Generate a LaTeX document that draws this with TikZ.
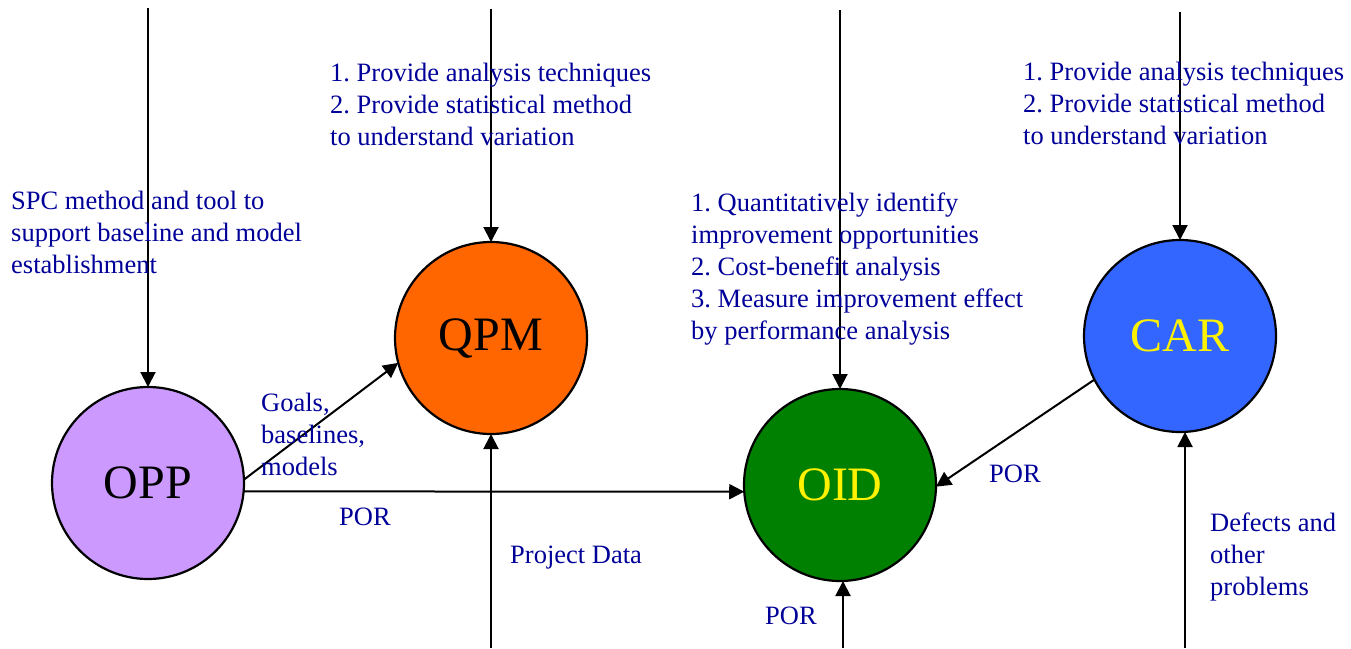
\documentclass[tikz,border=0pt]{standalone}
\usepackage{fontspec}
\setmainfont{Liberation Serif}
\usetikzlibrary{arrows.meta}
\definecolor{labelblue}{RGB}{0,0,153}
\definecolor{oppfill}{RGB}{204,153,255}
\definecolor{qpmfill}{RGB}{255,102,0}
\definecolor{oidfill}{RGB}{0,128,0}
\definecolor{carfill}{RGB}{51,102,255}
\frenchspacing
\begin{document}
\begin{tikzpicture}[x=1pt,y=-1pt,
  proc/.style={circle,draw=black,line width=2.2pt,minimum size=192pt,
    inner sep=0pt,outer sep=0pt,font=\fontsize{48}{48}\selectfont},
  flow/.style={line width=2pt,-{Triangle[length=15pt,width=15pt]}},
  note/.style={anchor=base west,inner sep=0pt,align=left,text=labelblue,
    font=\fontsize{26.5}{32}\selectfont}]
\useasboundingbox (0,0) rectangle (1351,648);

% process areas
\node[proc,fill=oppfill] (OPP) at (148,483) {OPP};
\node[proc,fill=qpmfill] (QPM) at (491,338) {QPM};
\node[proc,fill=oidfill,text=yellow] (OID) at (840,485) {OID};
\node[proc,fill=carfill,text=yellow] (CAR) at (1180,336) {CAR};

% free ends of the incoming flows
\coordinate (oppIn)  at (148,8);
\coordinate (qpmIn)  at (491,9);
\coordinate (oidIn)  at (840,10);
\coordinate (carIn)  at (1180,12);
\coordinate (qpmUp)  at (491,648);
\coordinate (oidUp)  at (843,648);
\coordinate (carUp)  at (1185,648);

% flows
\draw[flow] (oppIn) -- (OPP);
\draw[flow] (qpmIn) -- (QPM);
\draw[flow] (oidIn) -- (OID);
\draw[flow] (carIn) -- (CAR);
\draw[flow] (qpmUp) -- (QPM);
\draw[flow] (oidUp) -- (oidUp |- OID.south);
\draw[flow] (carUp) -- (carUp |- CAR.south);
\draw[flow] (OPP.2.3) -- (QPM.195.3);
\draw[flow] (OPP.-5.4) -- (OID.184.2);
\draw[flow] (CAR.207) -- (OID.-1);

% labels (base anchor sits on the last line of each block)
\node[note] (tSPC) at (11,273) {SPC method and tool to\\support baseline and model\\establishment};
\node[note] (tQPM) at (330,145) {1. Provide analysis techniques\\2. Provide statistical method\\to understand variation};
\node[note] (tOID) at (691,339) {1. Quantitatively identify\\improvement opportunities\\2. Cost-benefit analysis\\3. Measure improvement effect\\by performance analysis};
\node[note] (tCAR) at (1023,144) {1. Provide analysis techniques\\2. Provide statistical method\\to understand variation};
\node[note] (tGoals) at (261,475) {Goals,\\baselines,\\models};
\node[note] (tPOR1) at (339,525) {POR};
\node[note] (tData) at (510,563) {Project Data};
\node[note] (tPOR2) at (765,624) {POR};
\node[note] (tPOR3) at (989,482) {POR};
\node[note] (tDef) at (1210,595) {Defects and\\other\\problems};
\end{tikzpicture}
\end{document}
